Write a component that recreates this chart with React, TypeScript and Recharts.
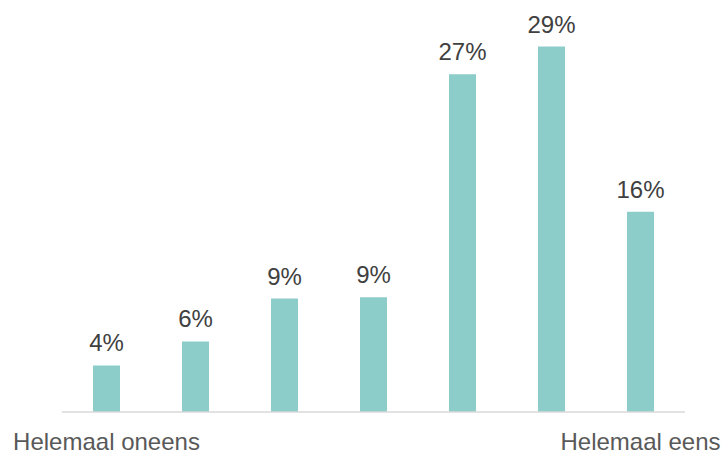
import { BarChart, Bar, XAxis, YAxis, LabelList } from "recharts";

const categories = ["Helemaal oneens", "", "", "", "", "", "Helemaal eens"];
const shares = [3.7, 5.6, 9.0, 9.1, 26.8, 29.0, 15.9];
const yDomain = [0, 30];

const data = categories.map((name, i) => ({ key: `c${i}`, name, share: shares[i] }));

const FONT = "'Liberation Sans', Arial, sans-serif";

const CategoryTick = ({ x, y, payload }: any) => {
  const label = categories[payload.index] ?? "";
  return (
    <text
      x={x}
      y={y + 30}
      textAnchor="middle"
      fill="#595959"
      fontSize={24}
      fontFamily={FONT}
    >
      {label}
    </text>
  );
};

export default function App() {
  return (
    <div style={{ position: "absolute", left: 0, top: 0, background: "#fff" }}>
      <BarChart
        width={726}
        height={452}
        data={data}
        margin={{ top: 34, right: 41, bottom: 0, left: 62 }}
      >
        <XAxis
          dataKey="key"
          tick={<CategoryTick />}
          tickLine={false}
          axisLine={{ stroke: "#d9d9d9", strokeWidth: 1.5 }}
          height={40}
          interval={0}
        />
        <YAxis hide domain={yDomain} width={0} />
        <Bar dataKey="share" fill="#8ccdca" barSize={27} isAnimationActive={false}>
          <LabelList
            dataKey="share"
            position="top"
            offset={14}
            formatter={(v: any) => `${Math.round(Number(v))}%`}
            style={{ fill: "#404040", fontSize: 24, fontFamily: FONT }}
          />
        </Bar>
      </BarChart>
    </div>
  );
}
